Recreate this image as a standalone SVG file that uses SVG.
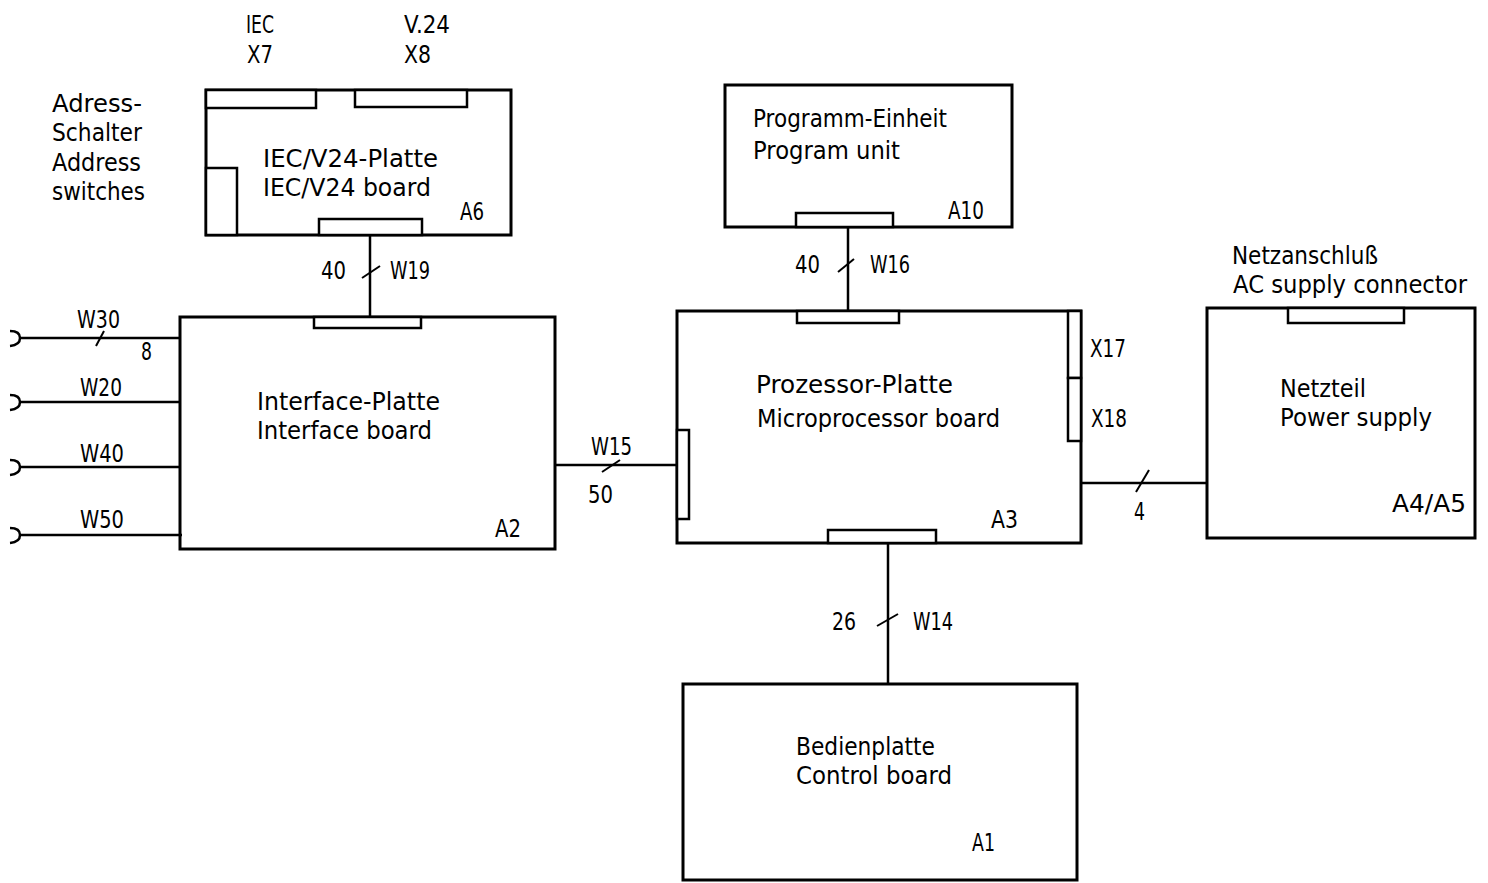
<svg xmlns="http://www.w3.org/2000/svg" width="1488" height="883" viewBox="0 0 1488 883">
<style>
.box{fill:none;stroke:#000;stroke-width:3;stroke-linejoin:miter}
.con{fill:#fff;stroke:#000;stroke-width:2.5}
.ln{fill:none;stroke:#000;stroke-width:2.5}
.sl{fill:none;stroke:#000;stroke-width:2}
text{font-family:"DejaVu Sans","Liberation Sans",sans-serif;font-size:24px;fill:#000;lengthAdjust:spacingAndGlyphs}
</style>
<rect width="1488" height="883" fill="#fff"/>
<g id="connectors">
<line class="ln" x1="370" y1="235" x2="370" y2="318"/>
<line class="sl" x1="362" y1="278" x2="380" y2="266"/>
<line class="ln" x1="848" y1="227" x2="848" y2="311"/>
<line class="sl" x1="838" y1="272" x2="854" y2="259"/>
<line class="ln" x1="555" y1="465" x2="677" y2="465"/>
<line class="sl" x1="602" y1="472" x2="620" y2="460"/>
<line class="ln" x1="1081" y1="483" x2="1207" y2="483"/>
<line class="sl" x1="1136" y1="492" x2="1149" y2="470"/>
<line class="ln" x1="888" y1="543" x2="888" y2="684"/>
<line class="sl" x1="877" y1="626" x2="898" y2="614"/>
<g id="inputs">
<line class="ln" x1="20" y1="338" x2="180" y2="338"/>
<line class="sl" x1="96" y1="346" x2="104" y2="331"/>
<line class="ln" x1="20" y1="402" x2="180" y2="402"/>
<line class="ln" x1="20" y1="467" x2="181" y2="467"/>
<line class="ln" x1="20" y1="535" x2="182" y2="535"/>
<path class="ln" d="M10,331 Q20,331 20,338 Q20,345 10,346"/>
<path class="ln" d="M10,395 Q20,395 20,402 Q20,409 10,410"/>
<path class="ln" d="M10,460 Q20,460 20,467 Q20,474 10,475"/>
<path class="ln" d="M10,528 Q20,528 20,535 Q20,542 10,543"/>
</g>
</g>
<g id="A6">
<rect class="box" x="206" y="90" width="305" height="145"/>
<rect class="con" x="206" y="90" width="110" height="18"/>
<rect class="con" x="355" y="90" width="112" height="17"/>
<rect class="con" x="206" y="168" width="31" height="67"/>
<rect class="con" x="319" y="219" width="103" height="16"/>
<text x="246" y="33" textLength="28" lengthAdjust="spacingAndGlyphs">IEC</text>
<text x="247" y="63" textLength="26" lengthAdjust="spacingAndGlyphs">X7</text>
<text x="404" y="33" textLength="46" lengthAdjust="spacingAndGlyphs">V.24</text>
<text x="404" y="63" textLength="27" lengthAdjust="spacingAndGlyphs">X8</text>
<text x="52" y="112" textLength="90" lengthAdjust="spacingAndGlyphs">Adress-</text>
<text x="52" y="141" textLength="90" lengthAdjust="spacingAndGlyphs">Schalter</text>
<text x="52" y="171" textLength="89" lengthAdjust="spacingAndGlyphs">Address</text>
<text x="52" y="200" textLength="93" lengthAdjust="spacingAndGlyphs">switches</text>
<text x="263" y="167" textLength="175" lengthAdjust="spacingAndGlyphs">IEC/V24-Platte</text>
<text x="263" y="196" textLength="168" lengthAdjust="spacingAndGlyphs">IEC/V24 board</text>
<text x="460" y="220" textLength="24" lengthAdjust="spacingAndGlyphs">A6</text>
</g>
<g id="A10">
<rect class="box" x="725" y="85" width="287" height="142"/>
<rect class="con" x="796" y="213" width="97" height="14"/>
<text x="753" y="127" textLength="194" lengthAdjust="spacingAndGlyphs">Programm-Einheit</text>
<text x="753" y="159" textLength="147" lengthAdjust="spacingAndGlyphs">Program unit</text>
<text x="948" y="219" textLength="36" lengthAdjust="spacingAndGlyphs">A10</text>
</g>
<g id="A2">
<rect class="box" x="180" y="317" width="375" height="232"/>
<rect class="con" x="314" y="317" width="107" height="11"/>
<text x="257" y="410" textLength="183" lengthAdjust="spacingAndGlyphs">Interface-Platte</text>
<text x="257" y="439" textLength="175" lengthAdjust="spacingAndGlyphs">Interface board</text>
<text x="495" y="537" textLength="26" lengthAdjust="spacingAndGlyphs">A2</text>
</g>
<g id="A3">
<rect class="box" x="677" y="311" width="404" height="232"/>
<rect class="con" x="797" y="311" width="102" height="12"/>
<rect class="con" x="677" y="430" width="12" height="89"/>
<rect class="con" x="1068" y="311" width="13" height="67"/>
<rect class="con" x="1068" y="378" width="13" height="63"/>
<rect class="con" x="828" y="530" width="108" height="13"/>
<text x="756" y="393" textLength="197" lengthAdjust="spacingAndGlyphs">Prozessor-Platte</text>
<text x="757" y="427" textLength="243" lengthAdjust="spacingAndGlyphs">Microprocessor board</text>
<text x="991" y="528" textLength="27" lengthAdjust="spacingAndGlyphs">A3</text>
<text x="1090" y="357" textLength="36" lengthAdjust="spacingAndGlyphs">X17</text>
<text x="1091" y="427" textLength="36" lengthAdjust="spacingAndGlyphs">X18</text>
</g>
<g id="A4A5">
<rect class="box" x="1207" y="308" width="268" height="230"/>
<rect class="con" x="1288" y="308" width="116" height="15"/>
<text x="1232" y="264" textLength="146" lengthAdjust="spacingAndGlyphs">Netzanschluß</text>
<text x="1233" y="293" textLength="234" lengthAdjust="spacingAndGlyphs">AC supply connector</text>
<text x="1280" y="397" textLength="86" lengthAdjust="spacingAndGlyphs">Netzteil</text>
<text x="1280" y="426" textLength="152" lengthAdjust="spacingAndGlyphs">Power supply</text>
<text x="1392" y="512" textLength="74" lengthAdjust="spacingAndGlyphs">A4/A5</text>
</g>
<g id="A1">
<rect class="box" x="683" y="684" width="394" height="196"/>
<text x="796" y="755" textLength="139" lengthAdjust="spacingAndGlyphs">Bedienplatte</text>
<text x="796" y="784" textLength="156" lengthAdjust="spacingAndGlyphs">Control board</text>
<text x="972" y="851" textLength="23" lengthAdjust="spacingAndGlyphs">A1</text>
</g>
<g id="labels">
<text x="321" y="279" textLength="25" lengthAdjust="spacingAndGlyphs">40</text>
<text x="390" y="279" textLength="40" lengthAdjust="spacingAndGlyphs">W19</text>
<text x="795" y="273" textLength="25" lengthAdjust="spacingAndGlyphs">40</text>
<text x="870" y="273" textLength="40" lengthAdjust="spacingAndGlyphs">W16</text>
<text x="77" y="328" textLength="43" lengthAdjust="spacingAndGlyphs">W30</text>
<text x="141" y="360" textLength="11" lengthAdjust="spacingAndGlyphs">8</text>
<text x="80" y="396" textLength="42" lengthAdjust="spacingAndGlyphs">W20</text>
<text x="80" y="462" textLength="44" lengthAdjust="spacingAndGlyphs">W40</text>
<text x="80" y="528" textLength="44" lengthAdjust="spacingAndGlyphs">W50</text>
<text x="591" y="455" textLength="41" lengthAdjust="spacingAndGlyphs">W15</text>
<text x="588" y="503" textLength="25" lengthAdjust="spacingAndGlyphs">50</text>
<text x="1134" y="520" textLength="11" lengthAdjust="spacingAndGlyphs">4</text>
<text x="832" y="630" textLength="24" lengthAdjust="spacingAndGlyphs">26</text>
<text x="913" y="630" textLength="40" lengthAdjust="spacingAndGlyphs">W14</text>
</g>
</svg>
